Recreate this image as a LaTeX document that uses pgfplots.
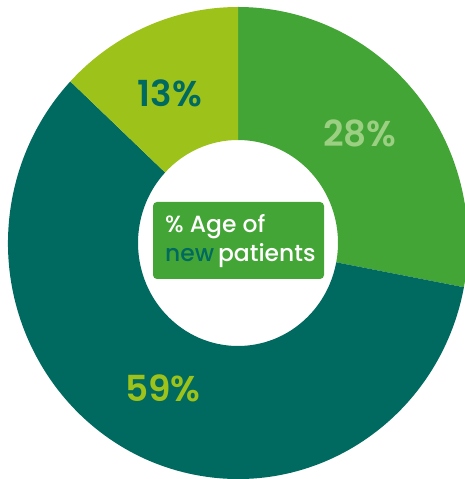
\documentclass[border=0pt]{standalone}
\usepackage{fontspec}
\setmainfont{Poppins}[UprightFont=* Medium, BoldFont=* SemiBold]
\usepackage{pgfplots}
\usepackage{pgfplotstable}
\pgfplotsset{compat=1.18}
\definecolor{sliceA}{HTML}{43A535}
\definecolor{sliceB}{HTML}{006960}
\definecolor{sliceC}{HTML}{9DC31A}
\definecolor{lblA}{HTML}{9BCF82}
\pgfplotstableread{
pct
28
59
13
}\donut
\begin{document}
\begin{tikzpicture}
\useasboundingbox (0,0) rectangle (465bp,479bp);
\begin{axis}[
  scale only axis, width=465bp, height=479bp,
  xmin=0, xmax=465, ymin=0, ymax=479,
  hide axis, clip=true,
]
\pgfmathsetmacro\acc{0}
\pgfplotsforeachungrouped \i in {0,1,2} {
  \pgfplotstablegetelem{\i}{pct}\of\donut
  \pgfmathsetmacro\va{\pgfplotsretval}
  \pgfmathsetmacro\sa{90-3.6*\acc}
  \pgfmathsetmacro\ea{90-3.6*(\acc+\va)}
  \pgfmathsetmacro\oxs{238+230*cos(\sa)}
  \pgfmathsetmacro\oys{236+236*sin(\sa)}
  \pgfmathsetmacro\ixe{238+100*cos(\ea)}
  \pgfmathsetmacro\iye{236+103*sin(\ea)}
  \ifcase\i \def\col{sliceA}\or \def\col{sliceB}\or \def\col{sliceC}\fi
  \edef\temp{\noexpand\fill[\col] (axis cs:\oxs,\oys) arc[start angle=\sa, end angle=\ea, x radius=230bp, y radius=236bp] -- (axis cs:\ixe,\iye) arc[start angle=\ea, end angle=\sa, x radius=100bp, y radius=103bp] -- cycle;}
  \temp
  \pgfmathsetmacro\acc{\acc+\va}
}
\node[text=sliceB, font=\fontsize{36}{40}\selectfont\bfseries, inner sep=0pt] at (axis cs:170,386) {13\%};
\node[text=lblA, font=\fontsize{36}{40}\selectfont\bfseries, inner sep=0pt] at (axis cs:360,346) {28\%};
\node[text=sliceC, font=\fontsize{36}{40}\selectfont\bfseries, inner sep=0pt] at (axis cs:163,91) {59\%};
\fill[sliceA, rounded corners=4bp] (axis cs:153,200) rectangle (axis cs:324,277);
\node[anchor=base west, inner sep=0pt, text=white, font=\fontsize{23.5}{28}\selectfont] at (axis cs:165,246) {\% Age of};
\node[anchor=base west, inner sep=0pt, font=\fontsize{23.5}{28}\selectfont] at (axis cs:165,217) {\textcolor{sliceB}{new}\,\textcolor{white}{patients}};
\end{axis}
\end{tikzpicture}
\end{document}
